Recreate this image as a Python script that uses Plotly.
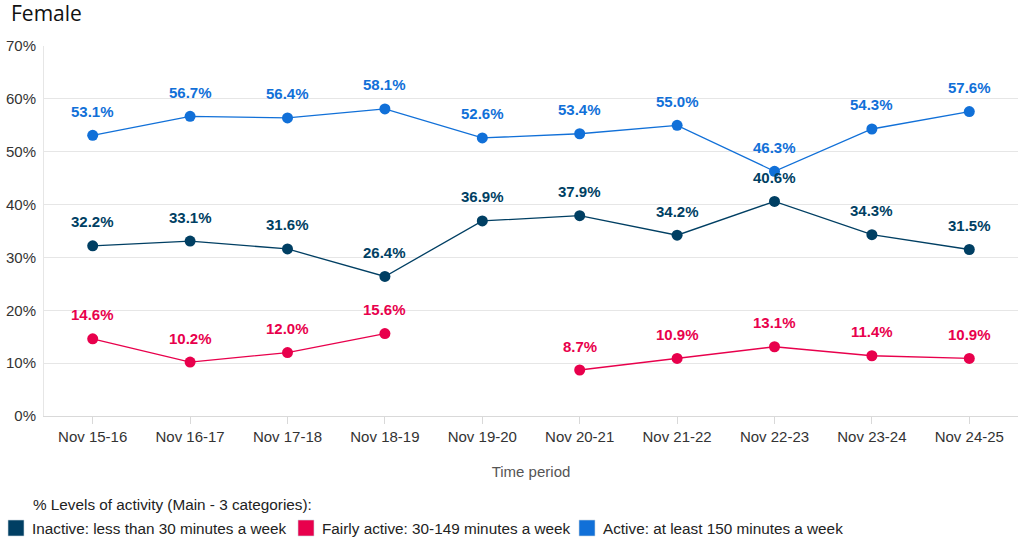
import plotly.graph_objects as go

periods = ["Nov 15-16", "Nov 16-17", "Nov 17-18", "Nov 18-19", "Nov 19-20",
           "Nov 20-21", "Nov 21-22", "Nov 22-23", "Nov 23-24", "Nov 24-25"]
inactive = [32.2, 33.1, 31.6, 26.4, 36.9, 37.9, 34.2, 40.6, 34.3, 31.5]
fairly = [14.6, 10.2, 12.0, 15.6, None, 8.7, 10.9, 13.1, 11.4, 10.9]
active = [53.1, 56.7, 56.4, 58.1, 52.6, 53.4, 55.0, 46.3, 54.3, 57.6]

names = ["Inactive: less than 30 minutes a week",
         "Fairly active: 30-149 minutes a week",
         "Active: at least 150 minutes a week"]
colors = ["#003f63", "#e8004c", "#1170d8"]
series = [inactive, fairly, active]

W, H = 1024, 556
ML, MR, MT, MB = 44, 6, 46, 140
PW, PH = W - ML - MR, H - MT - MB


def px_x(p):
    return (p - ML) / PW


def px_y(p):
    return (H - MB - p) / PH


FONT = "Liberation Sans, Arial"

fig = go.Figure()
annotations = []
shapes = []
for name, col, vals in zip(names, colors, series):
    fig.add_trace(go.Scatter(
        x=periods, y=vals, mode="lines+markers", name=name,
        line=dict(color=col, width=1.3), marker=dict(color=col, size=11),
        connectgaps=False, showlegend=False))
    for x, v in zip(periods, vals):
        if v is None:
            continue
        annotations.append(dict(
            x=x, y=v, text=f"{v:.1f}%", showarrow=False, yshift=24,
            font=dict(family=FONT, size=15, color=col, weight="bold")))

# Title
annotations.append(dict(
    x=px_x(9), y=px_y(13), xref="paper", yref="paper", xanchor="left", yanchor="middle",
    text="Female", showarrow=False,
    font=dict(family="Open Sans", size=21, color="#111111")))

# Custom legend (title + items)
annotations.append(dict(
    x=px_x(31), y=px_y(504), xref="paper", yref="paper", xanchor="left", yanchor="middle",
    text="% Levels of activity (Main - 3 categories):", showarrow=False,
    font=dict(family=FONT, size=15.3, color="#222222")))
legend_sq_left = [8, 298, 579]
for name, col, left in zip(names, colors, legend_sq_left):
    shapes.append(dict(
        type="rect", xref="paper", yref="paper",
        x0=px_x(left), x1=px_x(left + 16), y0=px_y(536), y1=px_y(520),
        fillcolor=col, line=dict(color="#cfd8e0", width=0.6)))
    annotations.append(dict(
        x=px_x(left + 22), y=px_y(528), xref="paper", yref="paper",
        xanchor="left", yanchor="middle", text=name, showarrow=False,
        font=dict(family=FONT, size=15.3, color="#222222")))

fig.update_layout(
    width=W, height=H,
    margin=dict(l=ML, r=MR, t=MT, b=MB),
    paper_bgcolor="white", plot_bgcolor="white",
    font=dict(family=FONT, size=15, color="#333333"),
    annotations=annotations, shapes=shapes, showlegend=False,
    xaxis=dict(
        title=dict(text="Time period", font=dict(size=15, color="#555555"), standoff=22),
        range=[-0.5, len(periods) - 0.5],
        showgrid=False, showline=True, linecolor="#d9d9d9", ticks="outside",
        ticklen=7, tickcolor="#d9d9d9", tickfont=dict(size=15, color="#333333"),
        zeroline=False, automargin=False),
    yaxis=dict(
        range=[0, 70], dtick=10, ticksuffix="%", showgrid=True, gridcolor="#e6e6e6",
        showline=True, linecolor="#e6e6e6", zeroline=False, automargin=False,
        ticklabelstandoff=4,
        tickfont=dict(size=15, color="#333333")),
)

fig.write_html("out.html")
